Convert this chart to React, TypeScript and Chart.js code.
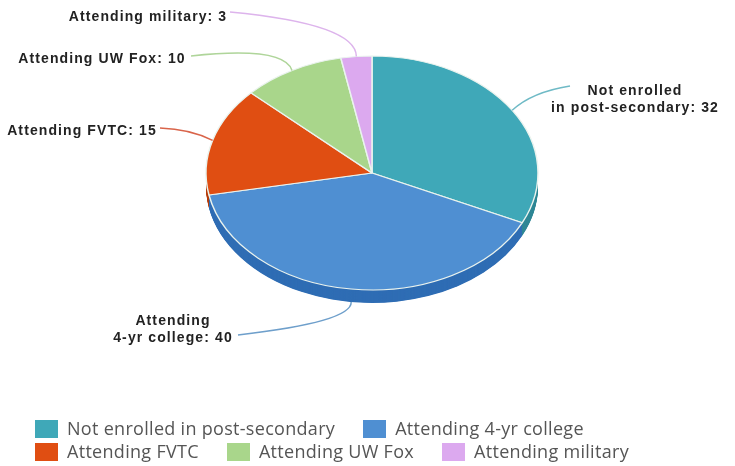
import React, { useEffect, useRef } from "react";
import { Chart, registerables } from "chart.js";

Chart.register(...registerables);

const categories = [
  "Not enrolled in post-secondary",
  "Attending 4-yr college",
  "Attending FVTC",
  "Attending UW Fox",
  "Attending military",
];
const values = [32, 40, 15, 10, 3];
const colors = ["#3FA8B8", "#4F8FD2", "#E04E12", "#A9D68B", "#DCA9EF"];
const sideColors = ["#2F8795", "#2F6DB4", "#B53D0C", "#86AE6C", "#B387C4"];
const lineColors = ["#6FBAC6", "#6E9FCB", "#D9644A", "#AFD59A", "#DDB4EC"];
const calloutLines = [
  ["Not enrolled", "in post-secondary: 32"],
  ["Attending", "4-yr college: 40"],
  ["Attending FVTC: 15"],
  ["Attending UW Fox: 10"],
  ["Attending military: 3"],
];
// Page layout of the callouts: text centre x, first baseline y, curve control, curve end
const calloutLayout = [
  { x: 635, y: 95, cx: 532, cy: 92, ex: 570, ey: 86 },
  { x: 173, y: 325, cx: 352, cy: 322, ex: 238, ey: 335 },
  { x: 82, y: 135, cx: 190, cy: 129, ex: 160, ey: 128 },
  { x: 102, y: 63, cx: 284, cy: 46, ex: 191, ey: 56 },
  { x: 148, y: 21, cx: 356, cy: 24, ex: 230, ey: 12 },
];

const CENTER_X = 372;
const CENTER_Y = 173;
const RADIUS = 166;
const SQUASH = 117 / 166;
const DEPTH = 13;

const piePlugin = {
  id: "tiltedPie",
  beforeDatasetsDraw(chart: any) {
    const { ctx } = chart;
    const arcs = chart.getDatasetMeta(0).data;
    const ox = arcs[0].x;
    const oy = arcs[0].y;
    ctx.save();
    ctx.translate(CENTER_X, CENTER_Y);
    ctx.scale(1, SQUASH);
    ctx.translate(-ox, -oy);
    for (let d = DEPTH; d >= 1; d -= 0.5) {
      arcs.forEach((arc: any, i: number) => {
        ctx.beginPath();
        ctx.moveTo(ox, oy + d / SQUASH);
        ctx.arc(ox, oy + d / SQUASH, arc.outerRadius, arc.startAngle, arc.endAngle);
        ctx.closePath();
        ctx.fillStyle = sideColors[i];
        ctx.fill();
      });
    }
  },
  afterDatasetsDraw(chart: any) {
    const { ctx } = chart;
    ctx.restore();
    const arcs = chart.getDatasetMeta(0).data;
    ctx.save();
    arcs.forEach((arc: any, i: number) => {
      const mid = (arc.startAngle + arc.endAngle) / 2;
      const sx = CENTER_X + arc.outerRadius * Math.cos(mid);
      const sin = Math.sin(mid);
      const sy = CENTER_Y + arc.outerRadius * SQUASH * sin + (sin > 0 ? DEPTH : 0);
      const l = calloutLayout[i];
      ctx.beginPath();
      ctx.moveTo(sx, sy);
      ctx.quadraticCurveTo(l.cx, l.cy, l.ex, l.ey);
      ctx.strokeStyle = lineColors[i];
      ctx.lineWidth = 1.5;
      ctx.stroke();
      ctx.font = "bold 14px 'Liberation Sans'";
      (ctx as any).letterSpacing = "1.1px";
      ctx.fillStyle = "#222";
      ctx.textAlign = "center";
      ctx.textBaseline = "alphabetic";
      calloutLines[i].forEach((t, j) => ctx.fillText(t, l.x, l.y + j * 17));
    });
    ctx.restore();
  },
};

export default function App() {
  const ref = useRef<HTMLCanvasElement>(null);
  useEffect(() => {
    const chart = new Chart(ref.current as HTMLCanvasElement, {
      type: "pie",
      data: {
        labels: categories,
        datasets: [
          {
            data: values,
            backgroundColor: colors,
            borderColor: "#EAF3EE",
            borderWidth: 1.5,
            clip: false,
          } as any,
        ],
      },
      options: {
        responsive: false,
        animation: false,
        radius: RADIUS,
        layout: { padding: 0 },
        plugins: { legend: { display: false }, tooltip: { enabled: false } },
      } as any,
      plugins: [piePlugin],
    });
    return () => chart.destroy();
  }, []);

  const rows = [categories.slice(0, 2), categories.slice(2)];
  return (
    <div style={{ position: "absolute", left: 0, top: 0, width: 735, height: 466, background: "#fff", overflow: "hidden" }}>
      <canvas ref={ref} width={735} height={466} style={{ display: "block", filter: "blur(0.6px)" }} />
      <div style={{ position: "absolute", left: 35, top: 417, fontFamily: "'Open Sans'", fontSize: 18, letterSpacing: 0.3, color: "#555", lineHeight: "23px" }}>
        {rows.map((row, r) => (
          <div key={r} style={{ display: "flex", gap: 28, whiteSpace: "nowrap" }}>
            {row.map((name) => (
              <div key={name} style={{ display: "flex", alignItems: "center" }}>
                <span style={{ width: 23, height: 18, marginRight: 9, background: colors[categories.indexOf(name)] }} />
                <span>{name}</span>
              </div>
            ))}
          </div>
        ))}
      </div>
    </div>
  );
}
